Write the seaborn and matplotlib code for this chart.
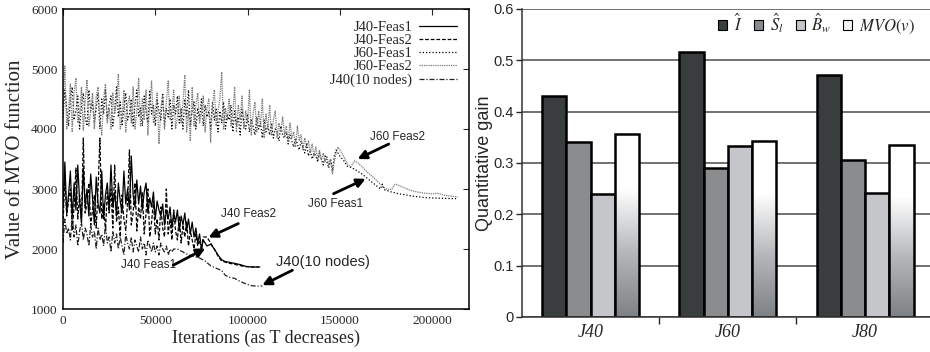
import numpy as np
import pandas as pd
import seaborn as sns
import matplotlib
matplotlib.use("Agg")
import matplotlib.pyplot as plt
from matplotlib.colors import LinearSegmentedColormap
from matplotlib.patches import Patch

sns.set_style("white")
plt.rcParams['font.family'] = ['Liberation Serif', 'DejaVu Serif']
plt.rcParams['mathtext.fontset'] = 'stix'

# ---- left panel: MVO value vs iterations ----
j60_iter = list(range(0, 151000, 1000)) + [152000, 154000, 156000, 158000, 160000, 163000, 166000,
                                            169000, 172000, 175000, 178000, 180000, 182000, 185000,
                                            188000, 192000, 196000, 200000, 203000, 206000, 210000, 214000]
j60_feas2 = [4400, 5050, 4000, 4300, 4750, 3950, 4600, 4850, 4100, 4250,
             4700, 3980, 4450, 4820, 4050, 4300, 4600, 4000, 4550, 4700,
             4150, 3900, 4500, 4750, 4100, 4350, 4000, 4600, 4250, 4450,
             4920, 4000, 4200, 4650, 3950, 4400, 4550, 4100, 4700, 4000,
             4300, 4850, 4050, 4500, 4150, 4650, 3900, 4400, 4800, 4100,
             4250, 4600, 3750, 4350, 4550, 4000, 4450, 4800, 4150, 4300,
             4650, 4000, 4200, 4550, 4100, 4450, 4900, 3950, 4300, 3800,
             4700, 4050, 4400, 4600, 4100, 4250, 4550, 3950, 4350, 4500,
             3780, 4400, 4650, 4050, 4300, 4500, 4950, 4000, 4350, 4150,
             4500, 4050, 4250, 4700, 3950, 4400, 4150, 4550, 4000, 4300,
             4100, 4650, 3900, 4250, 4450, 3950, 4300, 4050, 4500, 3850,
             4250, 4000, 4400, 3900, 4150, 4300, 3850, 4100, 3950, 4200,
             3900, 4050, 3800, 4100, 3850, 3950, 3700, 4050, 3800, 3900,
             3650, 3850, 3700, 3800, 3600, 3750, 3550, 3700, 3500, 3650,
             3480, 3600, 3450, 3550, 3400, 3500, 3250, 3450, 3600, 3700,
             3650,
             3550, 3420, 3370, 3470, 3430, 3340, 3250, 3170, 3080, 3000, 2990, 3080, 3060, 3020,
             2980, 2950, 2930, 2920, 2930, 2900, 2880, 2870]
j60_iter1 = list(range(0, 151000, 1000)) + [152000, 154000, 156000, 158000, 162000, 166000, 170000,
                                             172000, 173000, 174000, 176000, 178000, 182000, 186000,
                                             190000, 195000, 200000, 205000, 210000, 214000]
j60_feas1 = [4200, 4650, 4350, 4050, 4500, 4700, 4150, 4300, 4550, 4000,
             4400, 4600, 4200, 4050, 4650, 4300, 4450, 4100, 4350, 4600,
             4000, 4500, 4250, 4650, 4150, 4400, 4550, 4050, 4300, 4700,
             4200, 4450, 4050, 4350, 4600, 4150, 4250, 4500, 4050, 4400,
             4650, 4200, 4350, 4050, 4550, 4300, 4100, 4650, 4250, 4400,
             4050, 4500, 4300, 4150, 4600, 4050, 4350, 4200, 4500, 4000,
             4400, 4250, 4550, 4100, 4350, 4000, 4500, 4200, 4650, 4050,
             4300, 4450, 4000, 4350, 4150, 4500, 4050, 4400, 4200, 4300,
             4000, 4450, 4150, 4350, 3950, 4300, 4100, 4450, 4000, 4250,
             4150, 4400, 3950, 4300, 4050, 4200, 3900, 4350, 4100, 4000,
             4250, 3950, 4150, 4050, 3900, 4200, 4000, 4100, 3850, 4150,
             3950, 4050, 3900, 4100, 3850, 4000, 3950, 3800, 4050, 3900,
             3850, 3950, 3750, 3900, 3800, 3700, 3850, 3750, 3650, 3800,
             3700, 3600, 3750, 3550, 3650, 3500, 3600, 3550, 3450, 3600,
             3500, 3400, 3550, 3450, 3350, 3500, 3300, 3550, 3650, 3600,
             3550,
             3480, 3380, 3360, 3330, 3250, 3150, 3050, 3000, 3080, 2990, 2970, 2950, 2920, 2900,
             2880, 2860, 2850, 2845, 2840, 2840]
j40_iter = list(range(0, 77000, 1000)) + [78000, 80000, 82000, 84000, 86000, 88000, 90000, 93000,
                                           96000, 99000, 102000, 106000]
j40_feas1 = [2700, 3450, 2600, 2900, 3300, 2500, 3100, 2650, 3400, 2800,
             2450, 3350, 2700, 3000, 2550, 3250, 2850, 2400, 3200, 2750,
             2600, 3300, 2500, 2900, 3100, 2650, 3400, 2700, 2950, 2550,
             3100, 2800, 2600, 3300, 2750, 3000, 2650, 3550, 2900, 2700,
             3150, 2750, 3050, 2650, 2950, 3100, 2600, 2850, 2700, 2950,
             2500, 2800, 2650, 2550, 2750, 2400, 2650, 2500, 2700, 2350,
             2600, 2450, 2650, 2300, 2550, 2400, 2600, 2300, 2500, 2250,
             2450, 2200, 2350, 2100, 2250, 2000, 2150,
             2050, 2080, 2000, 1900, 1820, 1790, 1780, 1760, 1740, 1710, 1700, 1700]
j40_iter2 = list(range(0, 77000, 1000)) + [78000, 80000, 82000, 84000, 86000, 89000, 92000, 95000,
                                            98000, 102000, 107000]
j40_feas2 = [2400, 3200, 2550, 2800, 3000, 2300, 2700, 3350, 2500, 2900,
             2450, 3850, 2600, 2750, 3100, 2400, 2650, 2900, 2350, 3000,
             3850, 2500, 2750, 2300, 2950, 2600, 3000, 2350, 3400, 2450,
             2700, 2200, 2900, 2500, 2300, 2800, 3650, 2400, 2600, 3100,
             2300, 2700, 2500, 2950, 2250, 2600, 3000, 2200, 2450, 2800,
             2250, 2500, 2150, 2700, 2350, 2200, 3000, 2250, 2500, 2150,
             2650, 2300, 2150, 2550, 2100, 2400, 2200, 2450, 2050, 2300,
             2150, 2000, 2250, 2050, 2150, 1980, 2200,
             2200, 2100, 2000, 1880, 1800, 1770, 1750, 1730, 1710, 1700, 1700]
j40n_iter = list(range(0, 61000, 1000)) + [62000, 65000, 68000, 71000, 74000, 77000, 80000, 83000, 86000,
                                            88000, 90000, 93000, 96000, 99000, 102000, 105000, 108000]
j40_10nodes = [2100, 2500, 2250, 2350, 2150, 2550, 2200, 2400, 2050, 2300,
               2450, 2150, 2350, 2250, 2050, 2400, 2200, 2300, 2000, 2350,
               2150, 2250, 2050, 2400, 2100, 2200, 1950, 2300, 2100, 2250,
               2000, 2200, 2050, 1900, 2250, 2100, 2000, 2200, 1950, 2150,
               2050, 1950, 2200, 2000, 2100, 1900, 2150, 2050, 1950, 2100,
               1950, 2050, 1900, 2100, 2000, 1950, 2050, 1900, 2000, 1950,
               2000,
               2000, 1950, 1900, 1880, 1850, 1800, 1720, 1680, 1640, 1560, 1530, 1510, 1460, 1420, 1390,
               1380, 1385]

# ---- right panel: quantitative gain ----
groups = ['J40', 'J60', 'J80']
metrics = [r'$\hat{I}$', r'$\hat{S}_l$', r'$\hat{B}_w$', r'$MVO(v)$']
gain_I = [0.43, 0.516, 0.472]
gain_S = [0.34, 0.29, 0.305]
gain_B = [0.24, 0.333, 0.242]
gain_MVO = [0.357, 0.343, 0.335]

fig = plt.figure(figsize=(9.3, 3.52), dpi=100)
ax1 = fig.add_axes([63 / 930, 43 / 352, 406 / 930, 300 / 352])
ax2 = fig.add_axes([522 / 930, 35 / 352, 408 / 930, 308 / 352])

series = [
    (j40_iter, j40_feas1, 'J40-Feas1', 'black', '-'),
    (j40_iter2, j40_feas2, 'J40-Feas2', 'black', (0, (3, 1.5))),
    (j60_iter1, j60_feas1, 'J60-Feas1', 'black', (0, (1, 1.6))),
    (j60_iter, j60_feas2, 'J60-Feas2', '#7a7a7a', (0, (1, 0.8))),
    (j40n_iter, j40_10nodes, 'J40(10 nodes)', '#222222', (0, (4, 1.5, 1, 1.5))),
]
for xs, ys, lab, col, ls in series:
    sns.lineplot(x=xs, y=ys, ax=ax1, color=col, linestyle=ls, lw=0.9, label=lab, errorbar=None)

ax1.set_xlim(0, 220000)
ax1.set_ylim(1000, 6000)
ax1.set_xticks([0, 50000, 100000, 150000, 200000])
ax1.set_yticks([1000, 2000, 3000, 4000, 5000, 6000])
ax1.tick_params(direction='in', length=4, top=True, right=True, labelsize=9.5, pad=4)
for s in ax1.spines.values():
    s.set_color('black')
    s.set_linewidth(1.1)
ax1.set_xlabel('Iterations (as T decreases)', fontsize=13, labelpad=2)
ax1.set_ylabel('Value of MVO function', fontsize=15, labelpad=4)
ax1.legend(loc='upper right', bbox_to_anchor=(1.0, 1.0), frameon=False, markerfirst=False,
           fontsize=10.5, labelspacing=0.0, handlelength=2.6, handletextpad=0.5, borderaxespad=0.4)

arrow = dict(arrowstyle='-|>', color='black', lw=2, mutation_scale=13, shrinkA=0, shrinkB=0)
sans = ['Liberation Sans', 'DejaVu Sans']
notes = [
    ('J60 Feas2', (181000, 3860), (176500, 3749), (159600, 3500), 8.5),
    ('J60 Feas1', (147700, 2755), (146600, 2921), (164000, 3170), 8.5),
    ('J40 Feas2', (100500, 2590), (95000, 2424), (78800, 2192), 8.5),
    ('J40 Feas1', (46200, 1729), (59700, 1729), (77100, 2010), 8.5),
    ('J40(10 nodes)', (140600, 1790), (124300, 1646), (108000, 1397), 10.5),
]
for txt, tpos, tail, head, fs in notes:
    ax1.text(tpos[0], tpos[1], txt, family=sans, fontsize=fs, ha='center', va='center')
    ax1.annotate('', xy=head, xytext=tail, arrowprops=arrow)

# bars
df = pd.DataFrame({
    'group': groups * 4,
    'metric': [m for m in metrics for _ in groups],
    'gain': gain_I + gain_S + gain_B + gain_MVO,
})
palette = ['#393e3e', '#898c8f', '#c3c6ca', '#ffffff']
sns.barplot(data=df, x='group', y='gain', hue='metric', hue_order=metrics, palette=palette,
            width=0.706, gap=0, edgecolor='black', linewidth=1.8, ax=ax2, legend=False, zorder=2)

grad = LinearSegmentedColormap.from_list('mvo', [(0, '#7f8285'), (0.35, '#b5b7ba'),
                                                 (0.7, '#ffffff'), (1, '#ffffff')])
for bar in ax2.containers[3]:
    x0, w, h = bar.get_x(), bar.get_width(), bar.get_height()
    ax2.imshow(np.linspace(0, 1, 256).reshape(-1, 1), extent=[x0, x0 + w, 0, h], origin='lower',
               cmap=grad, aspect='auto', zorder=2.05)
    bar.set_facecolor('none')
    bar.set_zorder(2.1)

ax2.set_xlim(-0.5, 2.473)
ax2.set_ylim(0, 0.6)
ax2.set_yticks([0, 0.1, 0.2, 0.3, 0.4, 0.5, 0.6])
ax2.set_yticklabels(['0', '0.1', '0.2', '0.3', '0.4', '0.5', '0.6'], family=sans, fontsize=10.5)
ax2.set_xticks([0, 1, 2])
ax2.set_xticklabels(groups, fontstyle='italic', fontsize=13)
ax2.set_xticks([0.5, 1.5], minor=True)
ax2.tick_params(axis='x', which='major', length=0, pad=5)
ax2.tick_params(axis='x', which='minor', length=5, width=1, direction='out', bottom=True)
ax2.tick_params(axis='y', length=4, width=1, direction='out', left=True, pad=2)
ax2.yaxis.grid(True, color='#4a4a4a', lw=1.1)
ax2.xaxis.grid(False)
ax2.set_axisbelow(True)
for side in ['top', 'right']:
    ax2.spines[side].set_visible(False)
for side in ['left', 'bottom']:
    ax2.spines[side].set_color('#333333')
    ax2.spines[side].set_linewidth(1.1)
ax2.set_xlabel('')
ax2.set_ylabel('Quantitative gain', family=sans, fontsize=13)
ax2.yaxis.set_label_coords(-0.072, 0.5)

handles = [Patch(facecolor=c, edgecolor='black', lw=0.8) for c in ['#393e3e', '#898c8f', '#c3c6ca', '#f2f2f2']]
ax2.legend(handles, metrics, loc='upper right', bbox_to_anchor=(1.0, 1.04), ncol=4, frameon=False,
           fontsize=12, handlelength=0.55, handleheight=0.55, handletextpad=0.4, columnspacing=0.7)

fig.savefig('out.png', dpi=100)
